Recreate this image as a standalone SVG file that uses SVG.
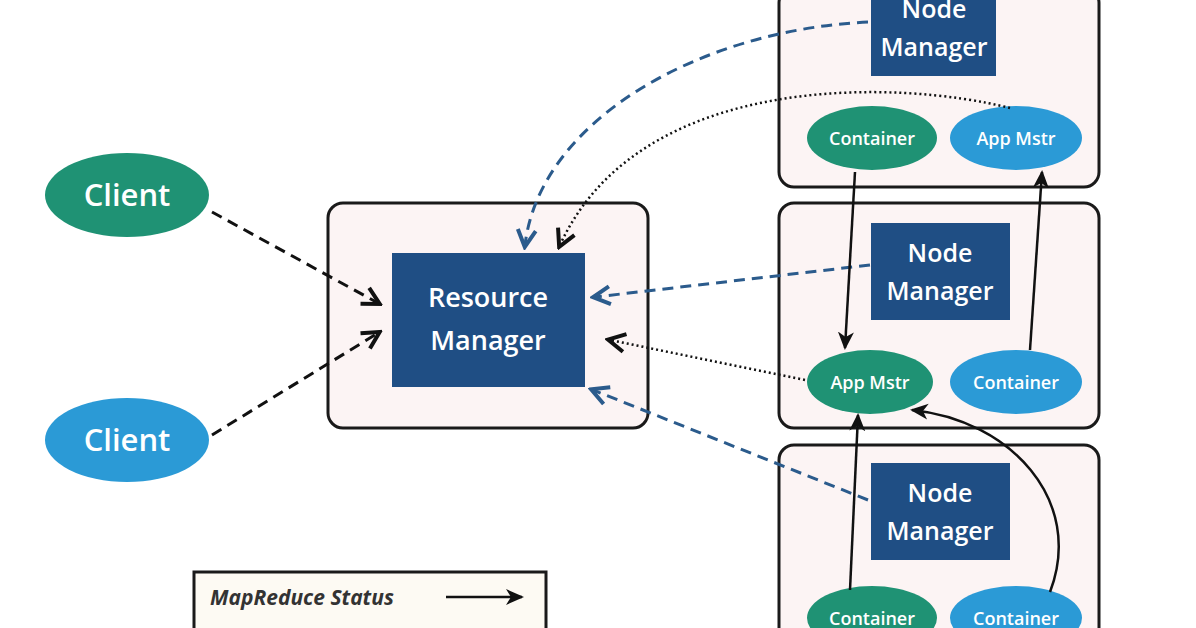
<svg xmlns="http://www.w3.org/2000/svg" width="1196" height="628" viewBox="0 0 1196 628">
<defs>
<marker id="au" markerWidth="22" markerHeight="22" refX="17" refY="11" orient="auto" markerUnits="userSpaceOnUse" viewBox="0 0 22 22"><path d="M2,2 L19,11 L2,20" fill="none" stroke="#111" stroke-width="4"/></marker>
<marker id="ad" markerWidth="22" markerHeight="22" refX="17" refY="11" orient="auto" markerUnits="userSpaceOnUse" viewBox="0 0 22 22"><path d="M2,2 L19,11 L2,20" fill="none" stroke="#2b5b8c" stroke-width="4"/></marker>
<marker id="as" markerWidth="20" markerHeight="20" refX="16" refY="10" orient="auto" markerUnits="userSpaceOnUse" viewBox="0 0 20 20"><path d="M0,2 L18,10 L0,18 L5,10 Z" fill="#111"/></marker>
</defs>
<style>
.box{fill:#fcf4f4;stroke:#1a1a1a;stroke-width:3}
.nm{fill:#1f4e84}
.g{fill:#1f9274}
.b{fill:#2b9ad6}
.t{font-family:"Open Sans","Liberation Sans",sans-serif;font-weight:600;fill:#fff;text-anchor:middle}
.dash{fill:none;stroke:#111;stroke-width:3;stroke-dasharray:11 7}
.bd{fill:none;stroke:#2b5b8c;stroke-width:3;stroke-dasharray:11 7}
.dot{fill:none;stroke:#111;stroke-width:2.5;stroke-dasharray:2 3}
.sol{fill:none;stroke:#111;stroke-width:2.5}
</style>
<rect width="1196" height="628" fill="#fff"/>
<g id="client1"><ellipse class="g" cx="127" cy="195" rx="82" ry="42"/><text class="t" x="127" y="206" font-size="31">Client</text></g>
<g id="client2"><ellipse class="b" cx="127" cy="440" rx="82" ry="42"/><text class="t" x="127" y="451" font-size="31">Client</text></g>
<g id="rm-box"><rect class="box" x="328" y="203" width="320" height="225" rx="15"/><rect class="nm" x="392" y="253" width="193" height="134"/><text class="t" x="488" y="307" font-size="27">Resource</text><text class="t" x="488" y="350" font-size="27">Manager</text></g>
<g id="node1"><rect class="box" x="779" y="-12" width="320" height="199" rx="15"/><rect class="nm" x="871" y="-5" width="125" height="81"/><text class="t" x="934" y="18" font-size="25">Node</text><text class="t" x="934" y="56" font-size="25">Manager</text>
<ellipse class="g" cx="872" cy="138" rx="65" ry="32"/><text class="t" x="872" y="145" font-size="18">Container</text>
<ellipse class="b" cx="1016" cy="138" rx="66" ry="32"/><text class="t" x="1016" y="145" font-size="18">App Mstr</text></g>
<g id="node2"><rect class="box" x="779" y="203" width="320" height="225" rx="15"/><rect class="nm" x="871" y="223" width="139" height="97"/><text class="t" x="940" y="262" font-size="25">Node</text><text class="t" x="940" y="300" font-size="25">Manager</text>
<ellipse class="g" cx="870" cy="382" rx="63" ry="32"/><text class="t" x="870" y="389" font-size="18">App Mstr</text>
<ellipse class="b" cx="1016" cy="382" rx="66" ry="32"/><text class="t" x="1016" y="389" font-size="18">Container</text></g>
<g id="node3"><rect class="box" x="779" y="445" width="320" height="200" rx="15"/><rect class="nm" x="871" y="463" width="139" height="97"/><text class="t" x="940" y="502" font-size="25">Node</text><text class="t" x="940" y="540" font-size="25">Manager</text>
<ellipse class="g" cx="872" cy="618" rx="65" ry="32"/><text class="t" x="872" y="625" font-size="18">Container</text>
<ellipse class="b" cx="1016" cy="618" rx="66" ry="32"/><text class="t" x="1016" y="625" font-size="18">Container</text></g>
<g id="connectors">
<path class="dash" d="M212,212 L378,303" marker-end="url(#au)"/>
<path class="dash" d="M212,435 L378,333" marker-end="url(#au)"/>
<path class="bd" d="M868,22 C700,30 540,120 525,245" marker-end="url(#ad)"/>
<path class="dot" d="M1010,108 C900,80 640,70 560,245" marker-end="url(#au)"/>
<path class="bd" d="M870,265 L595,297" marker-end="url(#ad)"/>
<path class="dot" d="M805,380 L610,340" marker-end="url(#au)"/>
<path class="bd" d="M868,500 L593,390" marker-end="url(#ad)"/>
<path class="sol" d="M855,172 L845,348" marker-end="url(#as)"/>
<path class="sol" d="M1030,350 L1042,172" marker-end="url(#as)"/>
<path class="sol" d="M850,590 L858,415" marker-end="url(#as)"/>
<path class="sol" d="M1050,592 C1085,500 1010,420 912,410" marker-end="url(#as)"/>
</g>
<g id="legend"><rect x="194" y="572" width="352" height="70" fill="#fdfaf3" stroke="#1a1a1a" stroke-width="3"/>
<text x="210" y="605" font-family="Open Sans,Liberation Sans,sans-serif" font-size="21" font-style="italic" font-weight="bold" fill="#333">MapReduce Status</text>
<path class="sol" d="M446,597 L522,597" marker-end="url(#as)"/></g>
</svg>
